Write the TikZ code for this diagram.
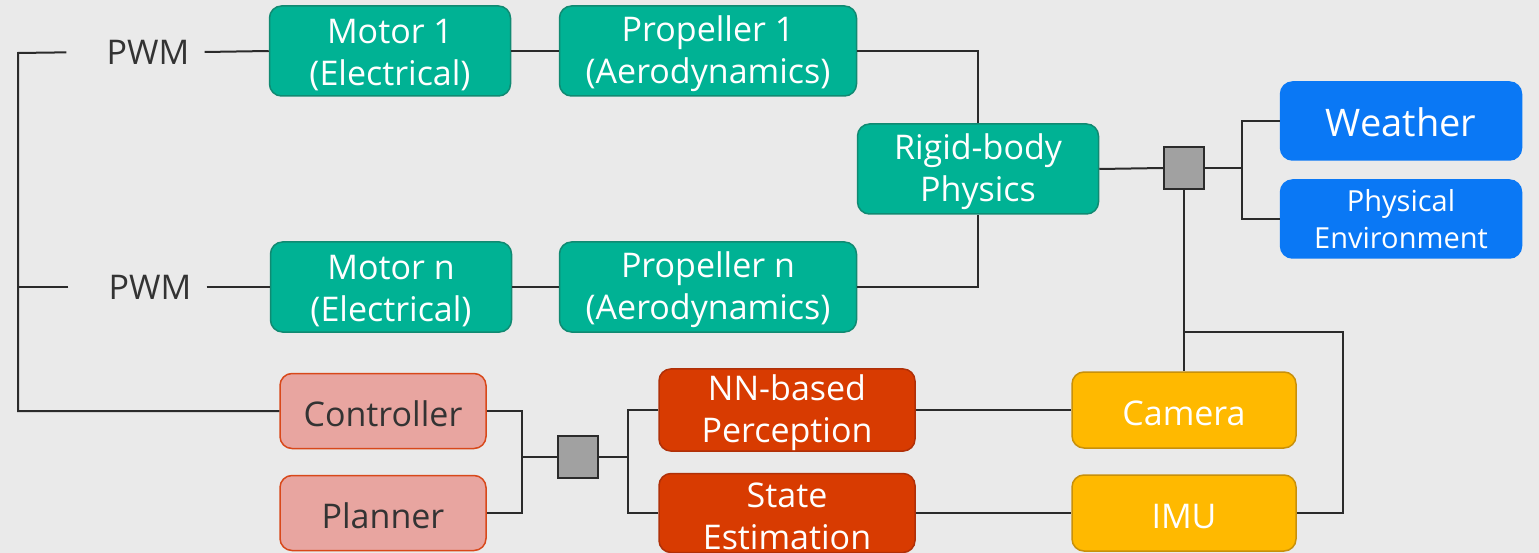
\documentclass[tikz,border=0pt]{standalone}
\usepackage{fontspec}
\setmainfont{Open Sans}

\definecolor{bgcol}{HTML}{EAEAEA}
\definecolor{dyngreen}{HTML}{00B294}
\definecolor{dyngreenline}{HTML}{108A72}
\definecolor{envblue}{HTML}{0A78F5}
\definecolor{ctrlpink}{HTML}{E8A5A0}
\definecolor{ctrlline}{HTML}{D8481A}
\definecolor{percred}{HTML}{D83B01}
\definecolor{percline}{HTML}{B03008}
\definecolor{sensyellow}{HTML}{FFB900}
\definecolor{sensline}{HTML}{C8900A}
\definecolor{wirecol}{HTML}{2B2B2B}

% pads the first line so the text sits a bit low in its box
\newcommand{\toppad}{\rule{0pt}{32pt}}

\begin{document}
\begin{tikzpicture}[x=1pt,y=-1pt,
  blk/.style={rectangle, rounded corners=12pt, line width=1.5pt, align=center,
    inner sep=0pt, text=white, font=\fontsize{34}{42}\selectfont},
  dynblk/.style={blk, fill=dyngreen, draw=dyngreenline, minimum width=241pt, minimum height=90pt},
  envblk/.style={blk, fill=envblue, draw=envblue, minimum width=241pt, minimum height=78pt},
  ctrlblk/.style={blk, fill=ctrlpink, draw=ctrlline, text=black!80, minimum width=206pt, minimum height=75pt},
  percblk/.style={blk, fill=percred, draw=percline, minimum width=256pt, minimum height=79pt},
  sensblk/.style={blk, fill=sensyellow, draw=sensline, minimum width=224pt, minimum height=76pt},
  junc/.style={rectangle, fill=black!37, draw=wirecol, line width=1.5pt, minimum width=40pt, minimum height=42pt, inner sep=0pt},
  wire/.style={draw=wirecol, line width=2pt},
  lbl/.style={text=black!80, inner xsep=15pt, font=\fontsize{34}{42}\selectfont}
]
\useasboundingbox (0,0) rectangle (1539,553);
\fill[bgcol] (0,0) rectangle (1539,553);

% actuators
\node[lbl] (pwm1) at (148,52) {PWM};
\node[lbl] (pwmn) at (150,287) {PWM};
\node[dynblk] (motor1) at (390,51) {\toppad Motor 1\\(Electrical)};
\node[dynblk, minimum width=297pt] (prop1) at (708,51) {\toppad Propeller 1\\(Aerodynamics)};
\node[dynblk] (motorn) at (391,287) {\toppad Motor n\\(Electrical)};
\node[dynblk, minimum width=297pt] (propn) at (708,287) {\toppad Propeller n\\(Aerodynamics)};
\node[dynblk] (rigid) at (978,169) {\toppad Rigid-body\\Physics};

% environment
\node[junc] (envjunc) at (1184,168) {};
\node[envblk, font=\fontsize{38}{42}\selectfont] (weather) at (1401,121) {\toppad Weather};
\node[envblk, font=\fontsize{29}{37}\selectfont] (physenv) at (1401,219) {Physical\\Environment};

% autonomy stack
\node[ctrlblk] (ctrl) at (383,411) {\toppad Controller};
\node[ctrlblk] (plan) at (383,513) {\toppad Planner};
\node[junc] (stackjunc) at (578,457) {};
\node[percblk] (nnperc) at (787,410) {\toppad NN-based\\Perception};
\node[percblk] (stateest) at (787,513) {\toppad State\\Estimation};
\node[sensblk] (camera) at (1184,410) {\toppad Camera};
\node[sensblk] (imu) at (1184,513) {\toppad IMU};

\coordinate (bustop) at (18,53);
\coordinate (envbus) at (1242,168);
\coordinate (sensbus) at (1184,332);
\coordinate (imuturn) at (1343,332);
\coordinate (cpbus) at (522,457);
\coordinate (pebus) at (628,457);

% wires
\draw[wire, shorten <=25pt] (pwm1.west) -- (bustop) |- (ctrl.west);
\draw[wire, shorten <=25pt] (pwmn.west) -- (pwmn.west -| bustop);
\draw[wire] (pwm1.east) -- (motor1.west);
\draw[wire] (pwmn.east) -- (motorn.west);
\draw[wire] (motor1.east) -- (prop1.west);
\draw[wire] (motorn.east) -- (propn.west);
\draw[wire] (prop1.east) -| (rigid.north);
\draw[wire] (propn.east) -| (rigid.south);
\draw[wire] (rigid.east) -- (envjunc.west);
\draw[wire] (envjunc.east) -- (envbus);
\draw[wire] (weather.west) -| (envbus) |- (physenv.west);
\draw[wire] (envjunc.south) -- (camera.north);
\draw[wire] (sensbus) -- (imuturn) |- (imu.east);
\draw[wire] (ctrl.east) -| (cpbus) |- (plan.east);
\draw[wire] (cpbus) -- (stackjunc.west);
\draw[wire] (stackjunc.east) -- (pebus);
\draw[wire] (nnperc.west) -| (pebus) |- (stateest.west);
\draw[wire] (nnperc.east) -- (camera.west);
\draw[wire] (stateest.east) -- (imu.west);
\end{tikzpicture}
\end{document}
